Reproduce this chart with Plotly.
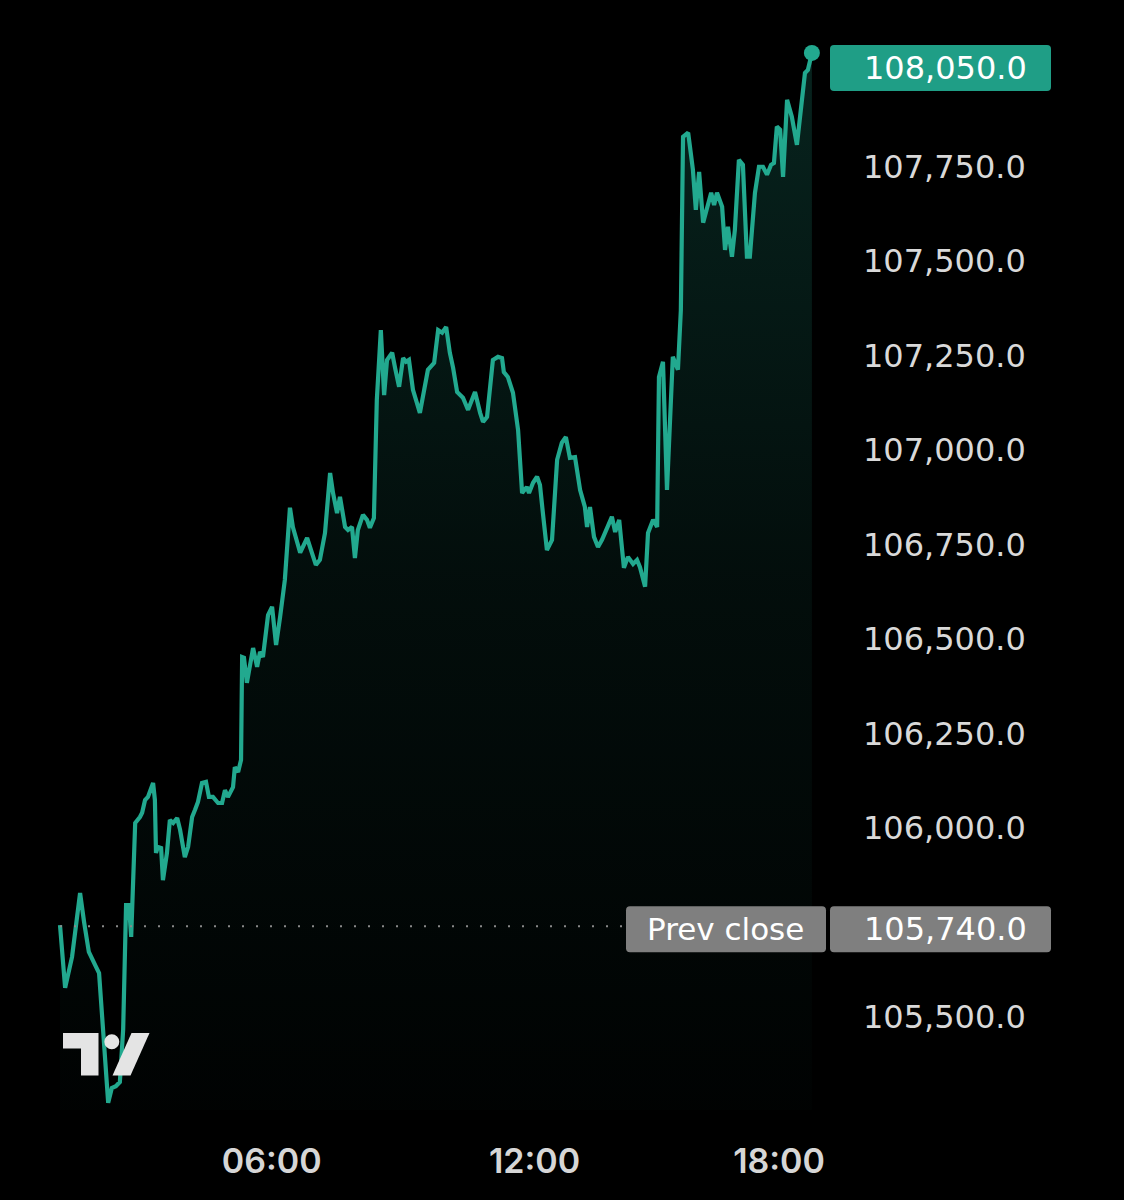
import plotly.graph_objects as go

# ---------------- data ----------------
BARS = [0.0, 1.4, 3.3, 5.5, 6.6, 7.9, 9.9, 10.7, 11.8, 12.6, 13.2, 14.2, 15.3, 16.4, 17.3, 18.1, 18.9, 19.5,
        20.3, 20.6, 21.9, 22.5, 23.3, 24.1, 25.5, 26.0, 26.3, 26.8, 27.7, 28.2, 29.3, 30.1, 31.0, 32.1, 32.9,
        34.2, 35.1, 36.2, 37.0, 37.8, 38.9, 40.0, 40.8, 41.9, 43.3, 44.4, 45.2, 46.0, 47.4, 47.9, 48.8, 49.6,
        49.9, 50.4, 51.2, 52.1, 52.9, 54.0, 54.8, 55.6, 57.0, 58.1, 59.2, 60.3, 61.6, 63.0, 63.8, 65.8, 66.6,
        67.7, 69.0, 70.1, 71.2, 72.6, 74.0, 74.8, 75.9, 76.7, 78.1, 78.9, 80.0, 80.8, 81.6, 83.0, 84.1, 84.9,
        86.0, 86.8, 87.9, 88.8, 89.6, 91.0, 91.8, 92.9, 94.0, 94.8, 95.6, 96.7, 98.6, 100.0, 100.8, 102.5,
        103.6, 104.7, 105.8, 106.8, 107.7, 108.8, 110.4, 111.8, 113.7, 115.1, 115.9, 117.0, 118.6, 120.0,
        121.1, 121.6, 122.7, 124.1, 125.5, 126.6, 127.9, 128.5, 129.6, 130.7, 131.5, 132.3, 133.4, 134.8,
        136.2, 137.5, 138.6, 139.7, 141.1, 142.5, 143.8, 144.4, 145.2, 146.3, 147.4, 148.5, 149.9, 151.2,
        152.1, 153.2, 154.5, 155.6, 157.0, 158.1, 158.9, 160.3, 161.1, 162.5, 163.6, 164.1, 165.2, 166.3,
        167.9, 169.3, 170.1, 170.7, 172.1, 173.4, 174.2, 175.1, 176.2, 177.3, 178.4, 179.2, 180.0, 181.4,
        182.2, 183.0, 184.1, 184.9, 186.0, 187.1, 188.2, 189.0, 190.4, 191.5, 192.6, 193.7, 194.8, 195.6,
        196.4, 197.3, 198.1, 199.2, 200.5, 201.9, 203.3, 204.1, 204.9, 206.0]

PRICES = [105743, 105577, 105659, 105828, 105751, 105672, 105632, 105616, 105466, 105333, 105273, 105312,
          105317, 105328, 105466, 105796, 105796, 105712, 106003, 106013, 106029, 106040, 106074, 106082,
          106119, 106074, 105934, 105950, 105947, 105862, 105934, 106021, 106013, 106026, 105995, 105923,
          105950, 106029, 106048, 106069, 106119, 106122, 106082, 106082, 106066, 106066, 106100, 106082,
          106108, 106161, 106148, 106180, 106452, 106450, 106384, 106426, 106476, 106426, 106466, 106452,
          106563, 106585, 106484, 106558, 106656, 106847, 106796, 106728, 106743, 106767, 106728, 106696,
          106709, 106780, 106939, 106886, 106833, 106876, 106796, 106788, 106796, 106714, 106788, 106828,
          106815, 106794, 106820, 107132, 107317, 107145, 107238, 107257, 107217, 107167, 107243, 107233,
          107238, 107159, 107098, 107167, 107212, 107230, 107317, 107310, 107325, 107257, 107217, 107153,
          107138, 107106, 107153, 107098, 107074, 107087, 107238, 107246, 107243, 107206, 107193, 107151,
          107053, 106886, 106902, 106886, 106913, 106929, 106907, 106833, 106735, 106762, 106974, 107019,
          107034, 106979, 106981, 106894, 106849, 106796, 106849, 106770, 106743, 106762, 106796, 106823,
          106783, 106815, 106688, 106717, 106698, 106709, 106690, 106638, 106780, 106815, 106796, 107193,
          107233, 106894, 107246, 107212, 107370, 107828, 107839, 107741, 107635, 107735, 107601, 107643,
          107680, 107648, 107680, 107643, 107529, 107590, 107511, 107582, 107767, 107754, 107511, 107511,
          107680, 107749, 107749, 107728, 107754, 107759, 107855, 107847, 107722, 107926, 107881, 107807,
          107934, 107997, 108005, 108050]

PREV_CLOSE = 105740.0
PREV_CLOSE_LABEL = "Prev close"
Y_TICKS = [105500, 106000, 106250, 106500, 106750, 107000, 107250, 107500, 107750]
X_TICK_BARS = [58, 130, 197]
X_TICK_LABELS = ["06:00", "12:00", "18:00"]

# ---------------- style / layout constants ----------------
W, H = 1124, 1200
PLOT_W, PLOT_H = 830, 1110
X_RANGE = [-16.44, 210.96]
Y_RANGE = [105254, 108190]
LINE_COLOR = "#22a98f"
BOX_GREEN = "#1f9e86"
BOX_GREY = "#7f7f7f"
FONT = "Inter"
NUM_FONT = "DejaVu Sans"


def pxx(px):
    return px / PLOT_W


def pxy(py):
    return 1 - py / PLOT_H


def val_to_py(v):
    return (Y_RANGE[1] - v) / (Y_RANGE[1] - Y_RANGE[0]) * PLOT_H


def px_to_bar(px):
    return X_RANGE[0] + px / PLOT_W * (X_RANGE[1] - X_RANGE[0])


def round_rect(x0, y0, x1, y1, r):
    X0, X1 = pxx(x0), pxx(x1)
    Y0, Y1 = pxy(y0), pxy(y1)
    rx = r / PLOT_W
    ry = r / PLOT_H
    return (f"M {X0+rx},{Y0} L {X1-rx},{Y0} Q {X1},{Y0} {X1},{Y0-ry} "
            f"L {X1},{Y1+ry} Q {X1},{Y1} {X1-rx},{Y1} L {X0+rx},{Y1} "
            f"Q {X0},{Y1} {X0},{Y1+ry} L {X0},{Y0-ry} Q {X0},{Y0} {X0+rx},{Y0} Z")


fig = go.Figure()

fig.add_trace(go.Scatter(
    x=BARS, y=PRICES, mode="lines",
    line=dict(color=LINE_COLOR, width=4.2),
    fill="tozeroy",
    fillgradient=dict(type="vertical", start=Y_RANGE[0], stop=max(PRICES),
                      colorscale=[[0, "rgba(34,169,143,0.015)"],
                                  [0.5, "rgba(34,169,143,0.08)"],
                                  [1, "rgba(34,169,143,0.21)"]]),
    hoverinfo="skip", showlegend=False,
))

fig.add_trace(go.Scatter(
    x=[BARS[-1]], y=[PRICES[-1]], mode="markers",
    marker=dict(color=LINE_COLOR, size=16),
    hoverinfo="skip", showlegend=False, cliponaxis=False,
))

shapes = []
# prev close dotted line
shapes.append(dict(type="line", xref="x", yref="y", x0=BARS[0], x1=px_to_bar(626),
                   y0=PREV_CLOSE, y1=PREV_CLOSE,
                   line=dict(color="#8a8a8a", width=2, dash="2px,12px"), layer="above"))

# last price box
last_top = 45
shapes.append(dict(type="path", xref="paper", yref="paper",
                   path=round_rect(830, last_top, 1051, last_top + 46, 4),
                   fillcolor=BOX_GREEN, line=dict(width=0), layer="above"))

# prev close boxes
pc_y = val_to_py(PREV_CLOSE) + 3
shapes.append(dict(type="path", xref="paper", yref="paper",
                   path=round_rect(626, pc_y - 23, 826, pc_y + 23, 4),
                   fillcolor=BOX_GREY, line=dict(width=0), layer="above"))
shapes.append(dict(type="path", xref="paper", yref="paper",
                   path=round_rect(830, pc_y - 23, 1051, pc_y + 23, 4),
                   fillcolor=BOX_GREY, line=dict(width=0), layer="above"))

# TradingView logo
LOGO = "#e4e4e4"
shapes.append(dict(type="path", xref="paper", yref="paper",
                   path=(f"M {pxx(63)},{pxy(1033)} L {pxx(98.5)},{pxy(1033)} L {pxx(98.5)},{pxy(1075.5)} "
                         f"L {pxx(81)},{pxy(1075.5)} L {pxx(81)},{pxy(1048.5)} L {pxx(63)},{pxy(1048.5)} Z"),
                   fillcolor=LOGO, line=dict(width=0), layer="above"))
shapes.append(dict(type="circle", xref="paper", yref="paper",
                   x0=pxx(104.3), x1=pxx(119.3), y0=pxy(1049.2), y1=pxy(1034.2),
                   fillcolor=LOGO, line=dict(width=0), layer="above"))
shapes.append(dict(type="path", xref="paper", yref="paper",
                   path=(f"M {pxx(131.5)},{pxy(1033)} L {pxx(149.5)},{pxy(1033)} L {pxx(130.5)},{pxy(1075.5)} "
                         f"L {pxx(112.5)},{pxy(1075.5)} Z"),
                   fillcolor=LOGO, line=dict(width=0), layer="above"))

annotations = [
    dict(xref="paper", yref="paper", x=pxx(862), y=pxy(last_top + 23), xanchor="left", yanchor="middle",
         text=f"{PRICES[-1]:,.1f}", showarrow=False, font=dict(family=NUM_FONT, size=32, color="#ffffff")),
    dict(xref="paper", yref="paper", x=pxx(725), y=pxy(pc_y), xanchor="center", yanchor="middle",
         text=PREV_CLOSE_LABEL, showarrow=False, font=dict(family=NUM_FONT, size=31, color="#ffffff")),
    dict(xref="paper", yref="paper", x=pxx(862), y=pxy(pc_y), xanchor="left", yanchor="middle",
         text=f"{PREV_CLOSE:,.1f}", showarrow=False, font=dict(family=NUM_FONT, size=32, color="#ffffff")),
]

fig.update_layout(
    width=W, height=H,
    margin=dict(l=0, r=W - PLOT_W, t=0, b=H - PLOT_H),
    paper_bgcolor="#000000", plot_bgcolor="#000000",
    shapes=shapes, annotations=annotations,
    xaxis=dict(range=X_RANGE, showgrid=False, zeroline=False, showline=False,
               tickmode="array", tickvals=X_TICK_BARS, ticktext=X_TICK_LABELS,
               ticks="", ticklabelstandoff=28,
               tickfont=dict(family=FONT, size=34, color="#d6d6d6", weight=600),
               fixedrange=True, automargin=False),
    yaxis=dict(range=Y_RANGE, side="right", showgrid=False, zeroline=False, showline=False,
               tickmode="array", tickvals=Y_TICKS, tickformat=",.1f",
               ticks="", ticklabelstandoff=32,
               tickfont=dict(family=NUM_FONT, size=32, color="#d9d9d9"),
               fixedrange=True, automargin=False),
    showlegend=False,
)

fig.write_html("out.html", config={"displayModeBar": False},
               post_script="document.body.style.margin='0';document.body.style.background='#000';")
